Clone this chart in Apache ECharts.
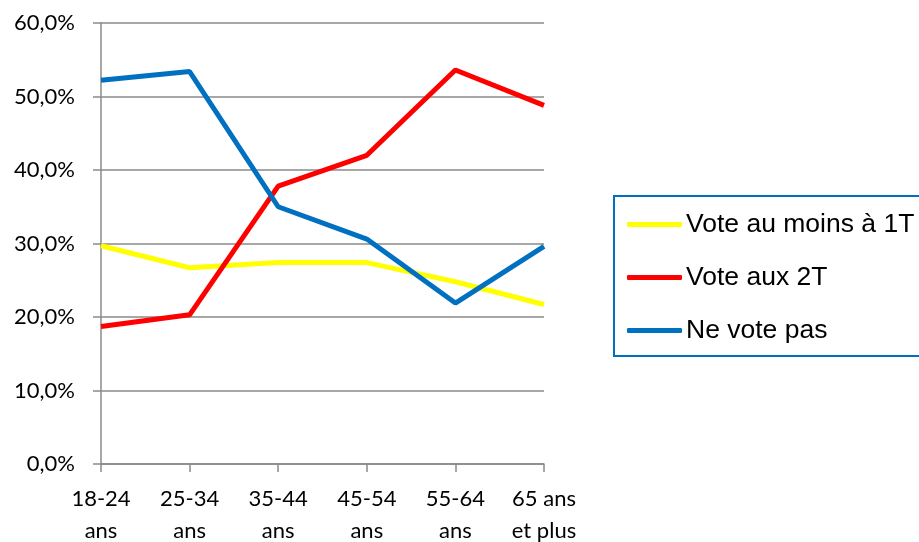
<!DOCTYPE html>
<html>
<head>
<meta charset="utf-8">
<script src="https://cdn.jsdelivr.net/npm/echarts@6/dist/echarts.min.js"></script>
<style>
  html, body { margin: 0; padding: 0; background: #fff; }
  #chart { width: 919px; height: 542px; }
</style>
</head>
<body>
<div id="chart"></div>
<script>
// tranches d'âge
const categories = ["18-24\nans", "25-34\nans", "35-44\nans", "45-54\nans", "55-64\nans", "65 ans\net plus"];
const voteAuMoins1T = [29.7, 26.7, 27.4, 27.4, 24.8, 21.7];
const voteAux2T = [18.7, 20.3, 37.8, 42.0, 53.6, 48.8];
const neVotePas = [52.2, 53.4, 35.0, 30.6, 21.9, 29.6];
const yTicks = [0, 10, 20, 30, 40, 50, 60];

const chart = echarts.init(document.getElementById("chart"), null, { renderer: "canvas" });

const axisGrey = "#8a8a8a";

const option = {
  animation: false,
  grid: {
    left: 101,
    right: 375,
    top: 23,
    bottom: 78,
    containLabel: false,
    outerBoundsMode: "none",
  },
  legend: {
    orient: "vertical",
    left: 614,
    top: 196,
    padding: [15, 40, 12, 13],
    itemGap: 26,
    itemWidth: 55,
    itemHeight: 5,
    icon: "roundRect",
    borderColor: "#0070C0",
    borderWidth: 2,
    textStyle: {
      fontFamily: "Liberation Sans",
      fontSize: 26.5,
      color: "#000",
      lineHeight: 20,
      padding: [0, 0, 0, -1],
    },
    data: ["Vote au moins à 1T", "Vote aux 2T", "Ne vote pas"],
  },
  xAxis: {
    type: "category",
    data: categories,
    boundaryGap: false,
    axisLine: { lineStyle: { color: axisGrey, width: 1.5 } },
    axisTick: { length: 8, lineStyle: { color: axisGrey, width: 1.5 } },
    axisLabel: {
      fontFamily: "Lato",
      fontSize: 22,
      color: "#000",
      lineHeight: 32,
      margin: 19,
      interval: 0,
    },
  },
  yAxis: {
    type: "value",
    min: yTicks[0],
    max: yTicks[yTicks.length - 1],
    interval: 10,
    axisLine: { show: true, lineStyle: { color: axisGrey, width: 1.5 } },
    axisTick: { show: true, length: 8, lineStyle: { color: axisGrey, width: 1.5 } },
    splitLine: { lineStyle: { color: axisGrey, width: 1.5 } },
    axisLabel: {
      fontFamily: "Lato",
      fontSize: 22,
      color: "#000",
      margin: 26,
      formatter: (v) => v.toFixed(1).replace(".", ",") + "%",
    },
  },
  series: [
    {
      name: "Vote au moins à 1T",
      type: "line",
      data: voteAuMoins1T,
      symbol: "none",
      lineStyle: { color: "#FFFF00", width: 5 },
      itemStyle: { color: "#FFFF00" },
    },
    {
      name: "Vote aux 2T",
      type: "line",
      data: voteAux2T,
      symbol: "none",
      lineStyle: { color: "#FF0000", width: 5 },
      itemStyle: { color: "#FF0000" },
    },
    {
      name: "Ne vote pas",
      type: "line",
      data: neVotePas,
      symbol: "none",
      lineStyle: { color: "#0070C0", width: 5 },
      itemStyle: { color: "#0070C0" },
    },
  ],
};

chart.setOption(option);
</script>
</body>
</html>
